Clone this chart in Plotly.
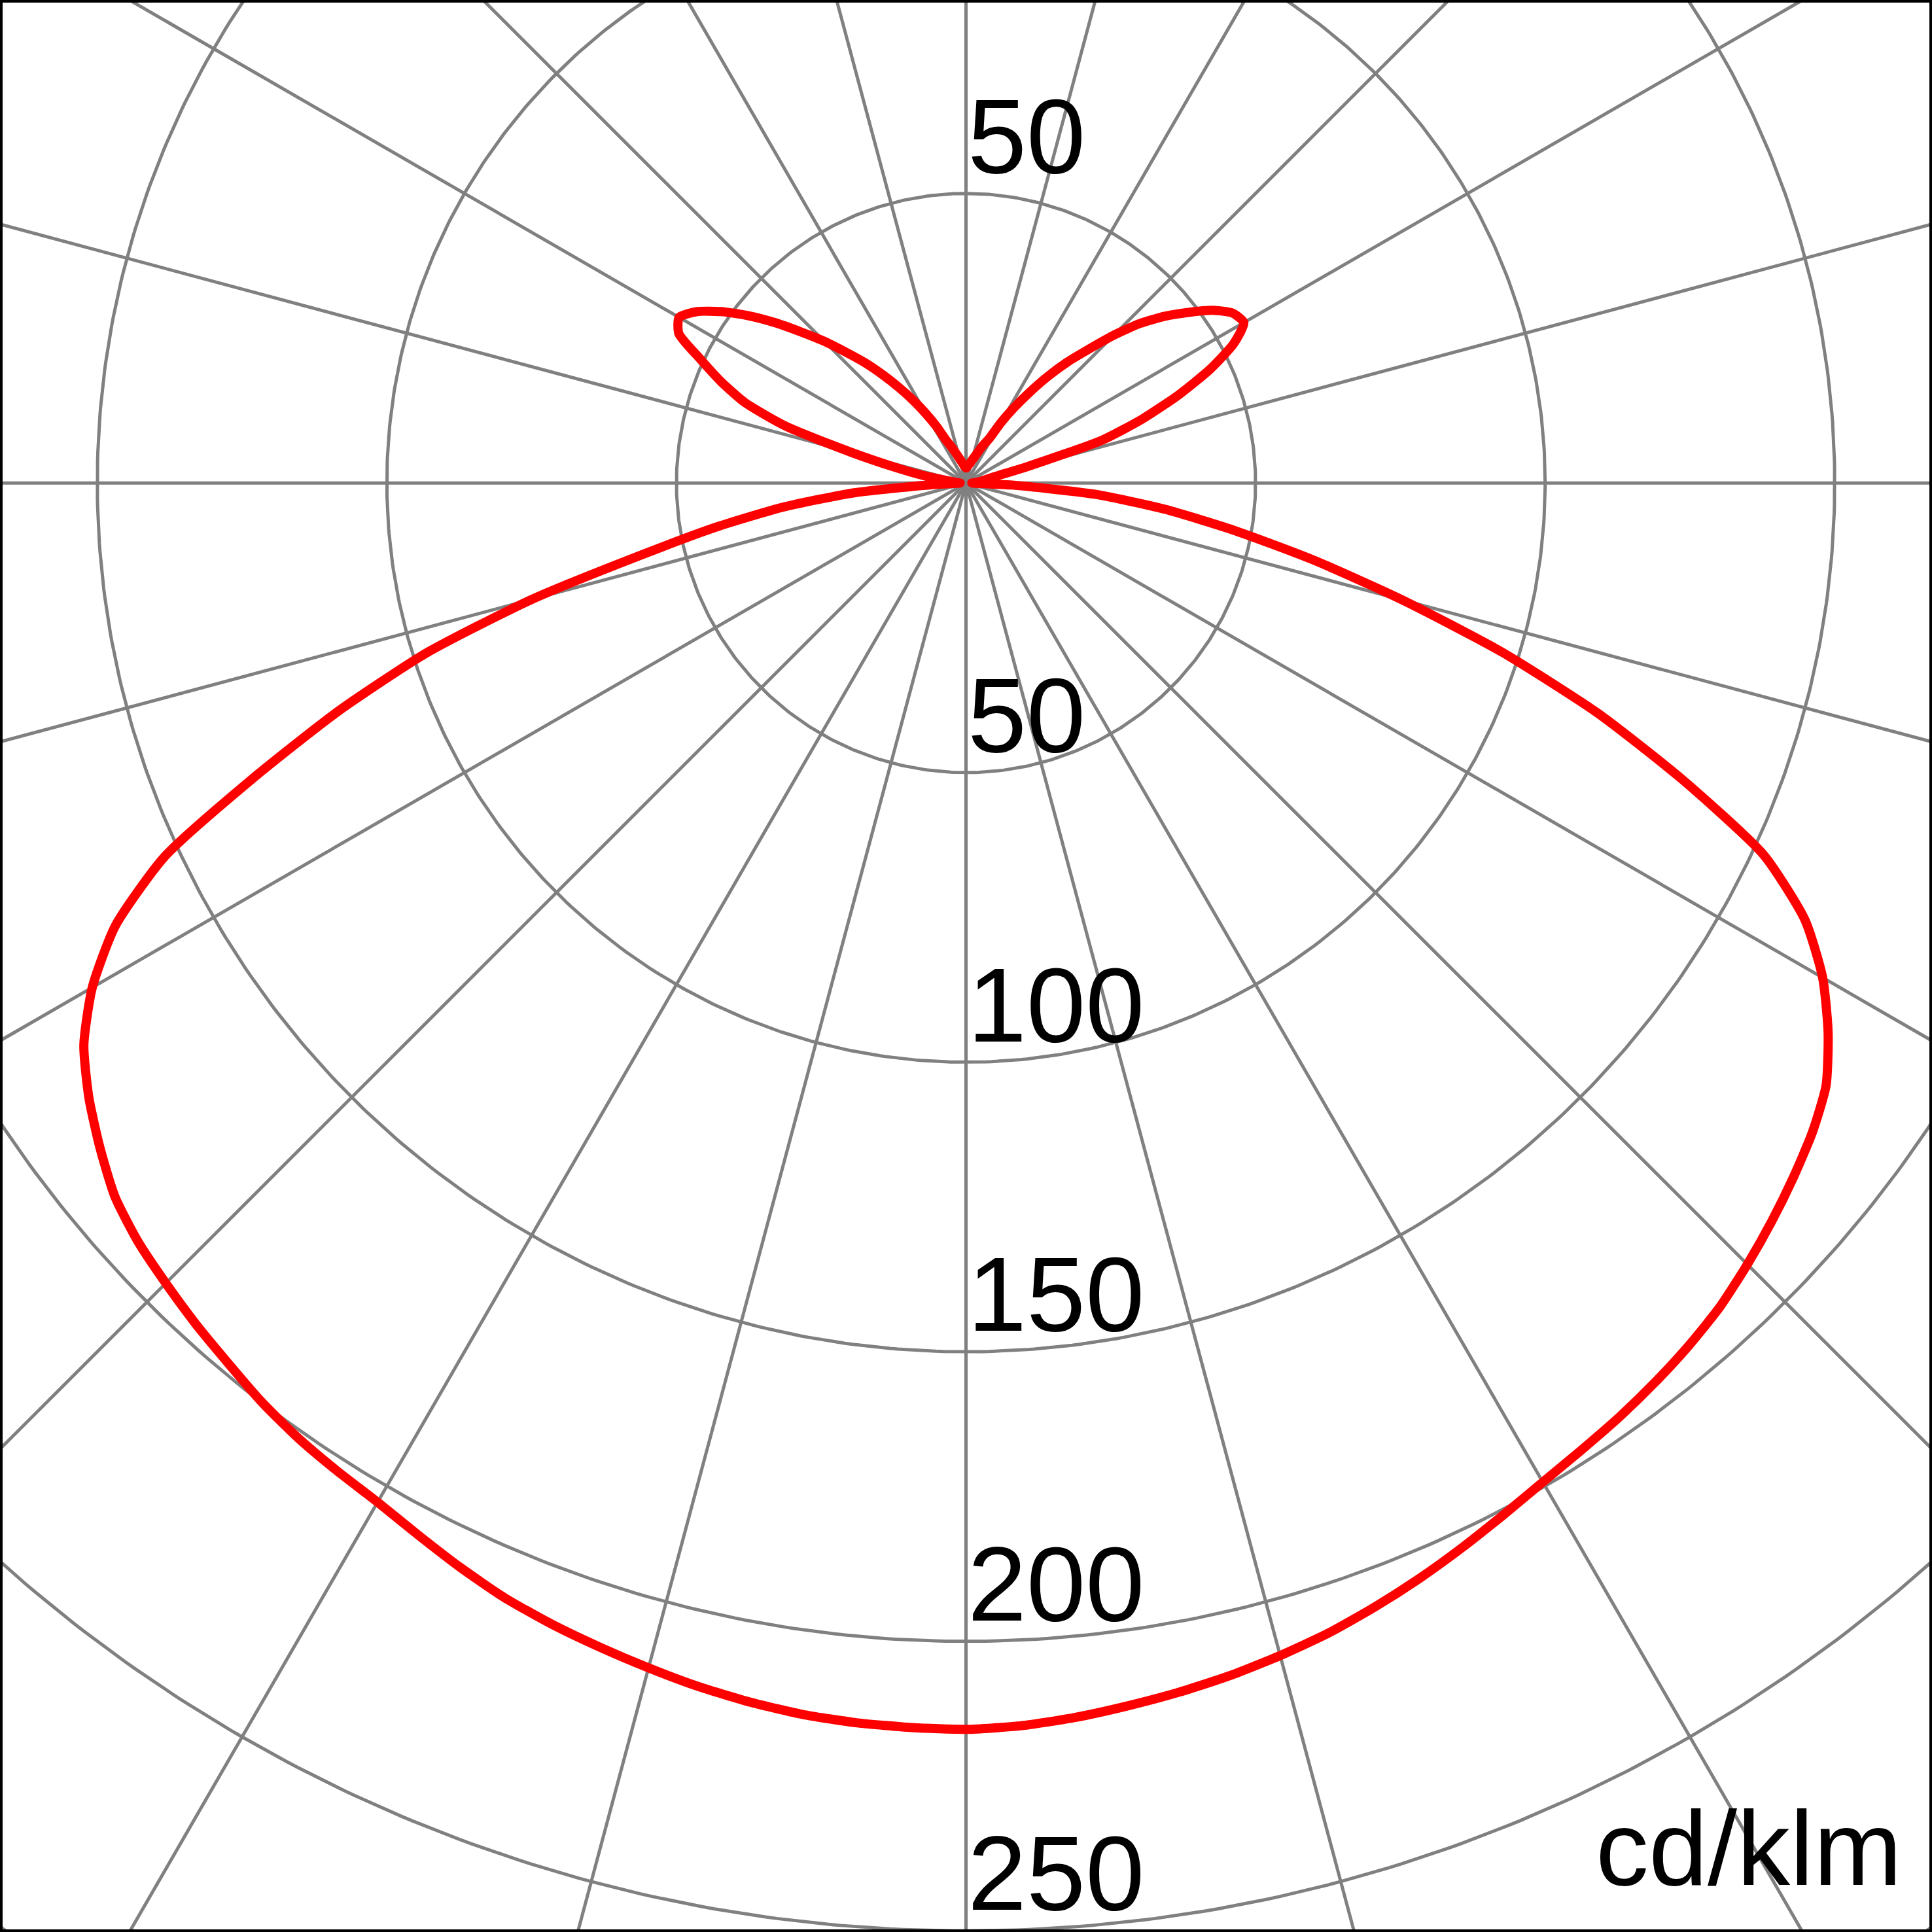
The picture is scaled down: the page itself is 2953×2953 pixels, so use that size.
import numpy as np
import plotly.graph_objects as go

# Gamma angles (deg, 0 = straight down, 180 = straight up)
gamma = [0, 2.5, 5, 7.5, 10, 12.5, 15, 17.5, 20, 22.5, 25, 27.5, 30, 32.5, 35, 37.5, 40, 42.5, 45, 47.5,
         50, 52.5, 55, 57.5, 60, 62.5, 65, 67.5, 70, 72.5, 75, 77.5, 80, 82.5, 85, 87.5, 90, 92.5, 95, 97.5,
         100, 102.5, 105, 107.5, 110, 112.5, 115, 117.5, 120, 122.5, 125, 127.5, 130, 132.5, 135, 137.5,
         140, 142.5, 145, 147.5, 150, 152.5, 155, 157.5, 160, 165, 170, 175, 180]

# Luminous intensity (cd/klm), C0 plane (right half)
i_c0 = [215.2, 214.8, 214.0, 213.0, 212.0, 210.9, 209.6, 208.2, 206.5, 204.7, 202.8, 200.9, 199.2, 197.9, 196.8,
        195.6, 194.3, 192.8, 190.8, 188.7, 186.5, 184.2, 181.3, 176.5, 170.8, 163.3, 152.0, 134.0, 116.0, 97.0,
        78.0, 61.5, 47.0, 34.6, 22.5, 8.0, 1.0, 1.5, 2.0, 2.7, 3.5, 5.0, 11.0, 24.7, 32.5, 39.7, 46.5, 52.1,
        55.4, 54.6, 52.0, 48.4, 44.8, 40.8, 36.1, 31.3, 27.3, 23.2, 19.1, 15.4, 12.0, 8.6, 7.4, 6.3, 5.3,
        4.1, 3.3, 2.9, 2.6]

# Luminous intensity (cd/klm), C180 plane (left half)
i_c180 = [215.2, 215.1, 214.9, 214.5, 213.8, 212.9, 211.8, 210.7, 209.6, 208.3, 206.6, 204.8, 203.2, 202.2, 201.2,
          199.9, 198.3, 196.9, 195.4, 193.9, 191.8, 188.5, 184.9, 180.6, 174.2, 165.6, 152.7, 133.3, 115.5, 97.8,
          77.6, 57.5, 43.8, 31.8, 19.4, 5.5, 1.0, 1.5, 2.0, 3.5, 7.5, 12.5, 20.6, 32.6, 40.6, 45.8, 50.6, 55.9,
          57.2, 55.1, 51.6, 47.5, 43.1, 38.6, 34.6, 30.6, 27.1, 23.5, 20.1, 16.9, 13.8, 11.0, 8.2, 7.0, 5.9,
          4.4, 3.5, 2.9, 2.6]

ring_values = [50, 100, 150, 200, 250, 300]
ring_labels_down = ["50", "100", "150", "200", "250"]
ring_labels_up = ["50"]
spoke_step = 15
unit_label = "cd/klm"

GRID = "#808080"
RED = "#ff0000"

fig = go.Figure()

# polar grid: rings
t = np.radians(np.linspace(0, 360, 721))
for rv in ring_values:
    fig.add_trace(go.Scatter(x=rv * np.sin(t), y=rv * np.cos(t), mode="lines",
                             line=dict(color=GRID, width=5), hoverinfo="skip", showlegend=False))
# spokes
for a in range(0, 180, spoke_step):
    ar = np.radians(a)
    R = 400
    fig.add_trace(go.Scatter(x=[-R * np.sin(ar), R * np.sin(ar)], y=[-R * np.cos(ar), R * np.cos(ar)],
                             mode="lines", line=dict(color=GRID, width=5), hoverinfo="skip", showlegend=False))

# intensity curve
g = np.radians(np.array(gamma, dtype=float))
r0 = np.array(i_c0, dtype=float)
r1 = np.array(i_c180, dtype=float)
x_left = -r1 * np.sin(g)
y_left = -r1 * np.cos(g)
x_right = r0 * np.sin(g)
y_right = -r0 * np.cos(g)
xs = np.concatenate([x_left[::-1], x_right[1:]])
ys = np.concatenate([y_left[::-1], y_right[1:]])
fig.add_trace(go.Scatter(x=xs, y=ys, mode="lines",
                         line=dict(color=RED, width=14, shape="spline", smoothing=0.6, simplify=False),
                         hoverinfo="skip", showlegend=False))

FONT = dict(family="Liberation Sans, Arial, sans-serif", size=162, color="black")
for lab, rv in zip(ring_labels_down, ring_values):
    fig.add_annotation(x=0, y=-rv, text=lab, showarrow=False, xanchor="left", yanchor="bottom",
                       xshift=0, yshift=-4, font=FONT)
for lab, rv in zip(ring_labels_up, ring_values):
    fig.add_annotation(x=0, y=rv, text=lab, showarrow=False, xanchor="left", yanchor="bottom",
                       xshift=0, yshift=-4, font=FONT)
fig.add_annotation(x=1, y=0, xref="paper", yref="paper", text=unit_label, showarrow=False,
                   xanchor="right", yanchor="bottom", xshift=-44, yshift=36, font=FONT)

# border
fig.add_shape(type="rect", xref="paper", yref="paper", x0=0, y0=0, x1=1, y1=1,
              line=dict(color="black", width=8))

S = 442.6 / 50.0
W = 2953
cx, cy = 1476.5, 738.3
fig.update_layout(
    width=W, height=W, margin=dict(l=0, r=0, t=0, b=0),
    paper_bgcolor="white", plot_bgcolor="white",
    xaxis=dict(range=[-cx / S, (W - cx) / S], visible=False, fixedrange=True),
    yaxis=dict(range=[-(W - cy) / S, cy / S], visible=False, fixedrange=True),
    showlegend=False,
)
fig.write_html("out.html", config={"displayModeBar": False},
               post_script="document.body.style.margin='0px';document.body.style.overflow='hidden';")
